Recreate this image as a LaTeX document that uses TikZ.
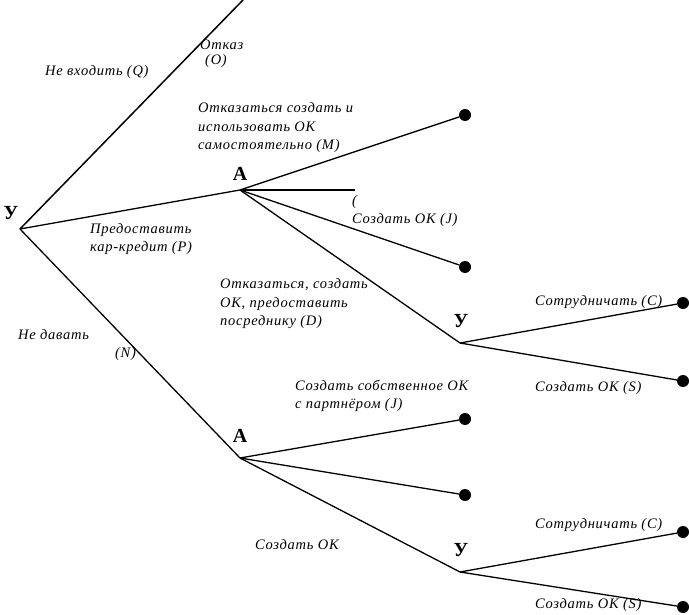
\documentclass[tikz,border=0pt]{standalone}
\usepackage{fontspec}
\setmainfont{Liberation Serif}
\begin{document}
\begin{tikzpicture}[x=1pt,y=-1pt,
  edge/.style={line width=1.3pt},
  leaf/.style={circle,fill=black,inner sep=0pt,minimum size=12pt},
  junc/.style={inner sep=0pt,minimum size=0pt},
  player/.style={font=\fontsize{20}{20}\selectfont\bfseries,inner sep=0pt},
  lab/.style={font=\fontsize{14.5}{18.5}\selectfont\itshape\addfontfeature{LetterSpace=5},align=left,anchor=west,inner sep=0pt}]
\useasboundingbox (0,0) rectangle (689,615);
% junctions
\node[junc] (u1) at (20,229) {};
\coordinate (top) at (243,0);
\node[junc] (a1) at (240,190) {};
\coordinate (h1) at (355,190);
\node[junc] (u2) at (460,343) {};
\node[junc] (a2) at (240,458) {};
\node[junc] (u3) at (460,572) {};
% leaves
\node[leaf] (l1) at (465,115) {};
\node[leaf] (l2) at (465,267) {};
\node[leaf] (l3) at (683,303) {};
\node[leaf] (l4) at (683,381) {};
\node[leaf] (l5) at (465,419) {};
\node[leaf] (l6) at (465,495) {};
\node[leaf] (l7) at (683,532) {};
\node[leaf] (l8) at (683,607) {};
% player labels
\node[player] (pu1) at (11,213) {У};
\node[player] (pa1) at (240,174) {А};
\node[player] (pu2) at (461,321) {У};
\node[player] (pa2) at (240,436) {А};
\node[player] (pu3) at (461,550) {У};
% edges
\draw[line width=1.5pt] (u1.center) -- (top);
\draw[edge] (u1.center) -- (a1.center);
\draw[edge] (u1.center) -- (a2.center);
\draw[edge] (a1.center) -- (l1);
\draw[line width=2pt] (a1.center) -- (h1);
\draw[edge] (a1.center) -- (l2);
\draw[edge] (a1.center) -- (u2.center);
\draw[edge] (u2.center) -- (l3);
\draw[edge] (u2.center) -- (l4);
\draw[edge] (a2.center) -- (l5);
\draw[edge] (a2.center) -- (l6);
\draw[edge] (a2.center) -- (u3.center);
\draw[edge] (u3.center) -- (l7);
\draw[edge] (u3.center) -- (l8);
% texts
\node[lab,font=\fontsize{14.5}{15}\selectfont\itshape\addfontfeature{LetterSpace=5}] (t1) at (200,54) {Отказ\\\hspace*{5pt}(О)};
\node[lab] (t2) at (45,72) {Не входить (Q)};
\node[lab] (t3) at (198,128) {Отказаться создать и\\использовать ОК\\самостоятельно (М)};
\node[lab] (t4) at (90,239) {Предоставить\\кар-кредит (Р)};
\node[lab] (t5) at (352,211) {(\\Создать ОК (J)};
\node[lab] (t6) at (220,304) {Отказаться, создать\\ОК, предоставить\\посреднику (D)};
\node[lab] (t7) at (18,345) {Не давать\\\hspace*{97pt}(N)};
\node[lab] (t8) at (535,302) {Сотрудничать (С)};
\node[lab] (t9) at (535,388) {Создать ОК (S)};
\node[lab] (t10) at (295,396) {Создать собственное ОК\\с партнёром (J)};
\node[lab] (t11) at (255,545) {Создать ОК};
\node[lab] (t12) at (535,525) {Сотрудничать (С)};
\node[lab] (t13) at (535,605) {Создать ОК (S)};
\end{tikzpicture}
\end{document}
